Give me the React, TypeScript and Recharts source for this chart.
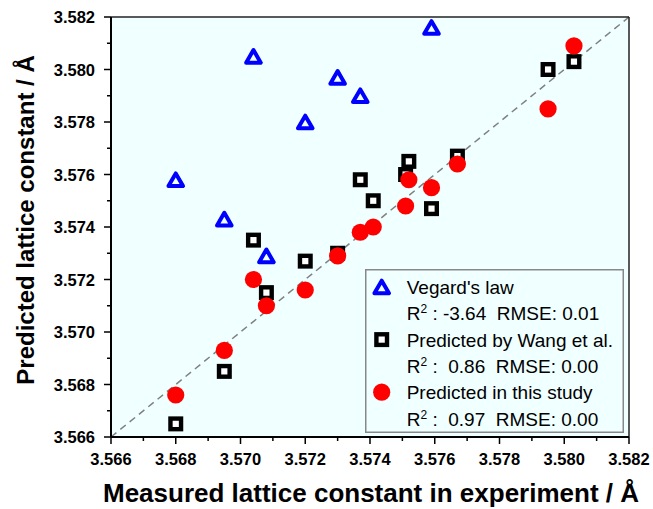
import React from "react"
import {
  ScatterChart,
  Scatter,
  XAxis,
  YAxis,
  CartesianGrid,
  ReferenceLine,
  Legend,
} from "recharts"

// Vegard's law only has eight samples
const vegardMeasured = [3.568, 3.5695, 3.5704, 3.5708, 3.572, 3.573, 3.5737, 3.5759]
const vegardPredicted = [3.5758, 3.5743, 3.5805, 3.5729, 3.578, 3.5797, 3.579, 3.5816]

const measured = [
  3.568, 3.5695, 3.5704, 3.5708, 3.572, 3.573, 3.5737, 3.5741, 3.5751, 3.5752, 3.5759, 3.5767,
  3.5795, 3.5803,
]
const wangPredicted = [
  3.5665, 3.5685, 3.5735, 3.5715, 3.5727, 3.573, 3.5758, 3.575, 3.576, 3.5765, 3.5747, 3.5767,
  3.58, 3.5803,
]
const studyPredicted = [
  3.5676, 3.5693, 3.572, 3.571, 3.5716, 3.5729, 3.5738, 3.574, 3.5748, 3.5758, 3.5755, 3.5764,
  3.5785, 3.5809,
]

const axisTicks = [
  3.566, 3.567, 3.568, 3.569, 3.57, 3.571, 3.572, 3.573, 3.574, 3.575, 3.576, 3.577, 3.578, 3.579,
  3.58, 3.581, 3.582,
]

const seriesNames = ["Vegard's law", "Predicted by Wang et al.", "Predicted in this study"]
const r2Labels = ["-3.64", " 0.86", " 0.97"]
const rmseLabels = ["0.01", "0.00", "0.00"]

const FONT = "Arial, 'Liberation Sans', sans-serif"
const BG = "#F0FFFF"

const vegardData = vegardMeasured.map((x, i) => ({ x, y: vegardPredicted[i] }))
const wangData = measured.map((x, i) => ({ x, y: wangPredicted[i] }))
const studyData = measured.map((x, i) => ({ x, y: studyPredicted[i] }))

const TriangleMark = ({ cx, cy }: any) => (
  <path
    d={`M${cx},${cy - 6.3}L${cx + 7.3},${cy + 6.3}L${cx - 7.3},${cy + 6.3}Z`}
    fill={BG}
    stroke="#0000FF"
    strokeWidth={4}
    strokeLinejoin="round"
  />
)

const SquareMark = ({ cx, cy }: any) => (
  <rect x={cx - 5.3} y={cy - 5.3} width={10.6} height={10.6} fill="#fff" stroke="#000" strokeWidth={4.4} />
)

const CircleMark = ({ cx, cy }: any) => <circle cx={cx} cy={cy} r={8.6} fill="#FF0000" />

const isMajor = (v: number) => Math.round(v * 1000) % 2 === 0

const XTick = ({ x, y, payload }: any) => {
  const v = payload.value
  const major = isMajor(v)
  return (
    <g>
      <line x1={x} y1={y} x2={x} y2={y + (major ? 7 : 4)} stroke="#000" strokeWidth={1.5} />
      {major && (
        <text x={x} y={y + 28} textAnchor="middle" fontFamily={FONT} fontWeight="bold" fontSize={16.5} fill="#000">
          {v.toFixed(3)}
        </text>
      )}
    </g>
  )
}

const YTick = ({ x, y, payload }: any) => {
  const v = payload.value
  const major = isMajor(v)
  return (
    <g>
      <line x1={x} y1={y} x2={x - (major ? 7 : 4)} y2={y} stroke="#000" strokeWidth={1.5} />
      {major && (
        <text x={x - 16} y={y + 6} textAnchor="end" fontFamily={FONT} fontWeight="bold" fontSize={16.5} fill="#000">
          {v.toFixed(3)}
        </text>
      )}
    </g>
  )
}

const XTitle = ({ viewBox }: any) => {
  const vb = viewBox || { x: 111, y: 437, width: 518, height: 72 }
  return (
    <text x={vb.x + vb.width / 2 + 1} y={vb.y + 65} textAnchor="middle" fontFamily={FONT} fontWeight="bold" fontSize={26} fill="#000">
      Measured lattice constant in experiment / Å
    </text>
  )
}

const YTitle = ({ viewBox }: any) => {
  const vb = viewBox || { x: 0, y: 17, width: 111, height: 420 }
  const cy = vb.y + vb.height / 2 - 7
  return (
    <text
      transform="rotate(-90)"
      x={-cy}
      y={vb.x + 34}
      textAnchor="middle"
      fontFamily={FONT}
      fontWeight="bold"
      fontSize={24}
      fill="#000"
    >
      Predicted lattice constant / Å
    </text>
  )
}

const legendMarks = [TriangleMark, SquareMark, CircleMark]

const LegendBox = () => {
  const step = 52.6
  return (
    <svg width={259} height={164} style={{ display: "block" }}>
      <rect x={0.75} y={0.75} width={257.5} height={162.5} fill="none" stroke="#888" strokeWidth={1.5} />
      {seriesNames.map((name, i) => {
        const rowA = 18 + step * i
        const rowB = rowA + 26.3
        const Mark = legendMarks[i]
        return (
          <g key={name} fontFamily={FONT} fontSize={19} fill="#000">
            <Mark cx={16.7} cy={rowA} />
            <text x={41.7} y={rowA + 7}>{name}</text>
            <text x={41.7} y={rowB + 7} xmlSpace="preserve" style={{ whiteSpace: "pre" }}>
              <tspan>R</tspan>
              <tspan fontSize={12} dy={-7}>2</tspan>
              <tspan dy={7}>{` : ${r2Labels[i]}  RMSE: ${rmseLabels[i]}`}</tspan>
            </text>
          </g>
        )
      })}
    </svg>
  )
}

export default function App() {
  return (
    <div style={{ position: "absolute", left: 0, top: 0, width: 653, height: 509, background: "#fff" }}>
      <ScatterChart width={653} height={509} margin={{ top: 17, right: 24, bottom: 0, left: 0 }}>
        <CartesianGrid horizontal={false} vertical={false} fill={BG} />
        <XAxis
          type="number"
          dataKey="x"
          domain={[3.566, 3.582]}
          ticks={axisTicks}
          interval={0}
          height={72}
          tickSize={0}
          tickMargin={0}
          tickLine={false}
          tick={<XTick />}
          axisLine={{ stroke: "#000", strokeWidth: 2 }}
          label={{ content: XTitle }}
        />
        <YAxis
          type="number"
          dataKey="y"
          domain={[3.566, 3.582]}
          ticks={axisTicks}
          interval={0}
          width={111}
          tickSize={0}
          tickMargin={0}
          tickLine={false}
          tick={<YTick />}
          axisLine={{ stroke: "#000", strokeWidth: 2 }}
          label={{ content: YTitle }}
        />
        <ReferenceLine
          segment={[
            { x: 3.566, y: 3.566 },
            { x: 3.582, y: 3.582 },
          ]}
          stroke="#808080"
          strokeWidth={1.5}
          strokeDasharray="7 5"
        />
        <ReferenceLine y={3.582} stroke="#222" strokeWidth={1.5} />
        <ReferenceLine x={3.582} stroke="#222" strokeWidth={1.5} />
        <Scatter name={seriesNames[0]} data={vegardData} shape={TriangleMark} isAnimationActive={false} />
        <Scatter name={seriesNames[1]} data={wangData} shape={SquareMark} isAnimationActive={false} />
        <Scatter name={seriesNames[2]} data={studyData} shape={CircleMark} isAnimationActive={false} />
        <Legend
          layout="horizontal"
          align="center"
          verticalAlign="middle"
          wrapperStyle={{ left: 365, top: 269, width: 259, height: 164 }}
          content={() => <LegendBox />}
        />
      </ScatterChart>
    </div>
  )
}
